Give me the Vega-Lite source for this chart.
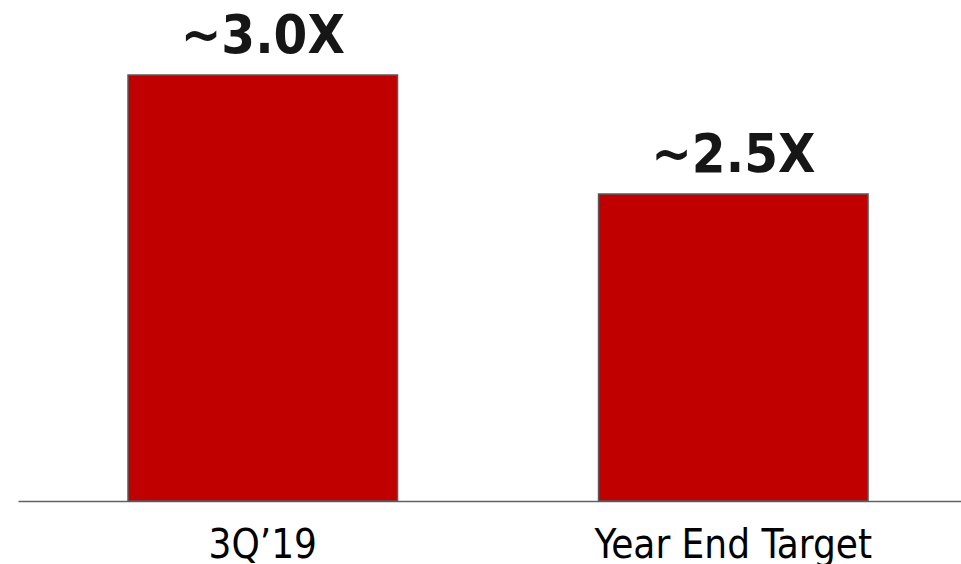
{
  "$schema": "https://vega.github.io/schema/vega-lite/v6.json",
  "width": 943,
  "height": 501,
  "autosize": {"type": "none"},
  "padding": {"left": 18, "top": 0, "right": 0, "bottom": 63},
  "background": "white",
  "config": {"view": {"stroke": null}, "font": "DejaVu Sans"},
  "data": {"values": [
    {"period": "3Q’19", "multiple": 3.0, "label": "~3.0X"},
    {"period": "Year End Target", "multiple": 2.5, "label": "~2.5X"}
  ]},
  "encoding": {
    "x": {
      "field": "period", "type": "nominal", "sort": null,
      "scale": {"paddingInner": 0.4272, "paddingOuter": 0.2157, "align": 0.542},
      "axis": {"title": null, "ticks": false, "tickSize": 0, "labelAngle": 0, "labelFont": "DejaVu Sans Condensed",
               "labelFontSize": 40, "labelColor": "#000000", "labelBaseline": "alphabetic", "labelPadding": 56,
               "labelLimit": 0, "labelOverlap": false,
               "domainColor": "#5f6368", "domainWidth": 1.5, "grid": false}
    },
    "y": {
      "field": "multiple", "type": "quantitative",
      "scale": {"domain": [1.21, 3.315], "zero": false, "nice": false, "clamp": true},
      "axis": null
    }
  },
  "layer": [
    {"mark": {"type": "bar", "color": "#C00000", "stroke": "#595959", "strokeWidth": 1.5}},
    {"mark": {"type": "text", "baseline": "alphabetic", "dy": -22, "fontSize": 54, "fontWeight": "bold", "color": "#161616", "font": "DejaVu Sans Condensed"},
     "encoding": {"text": {"field": "label"}}}
  ]
}
